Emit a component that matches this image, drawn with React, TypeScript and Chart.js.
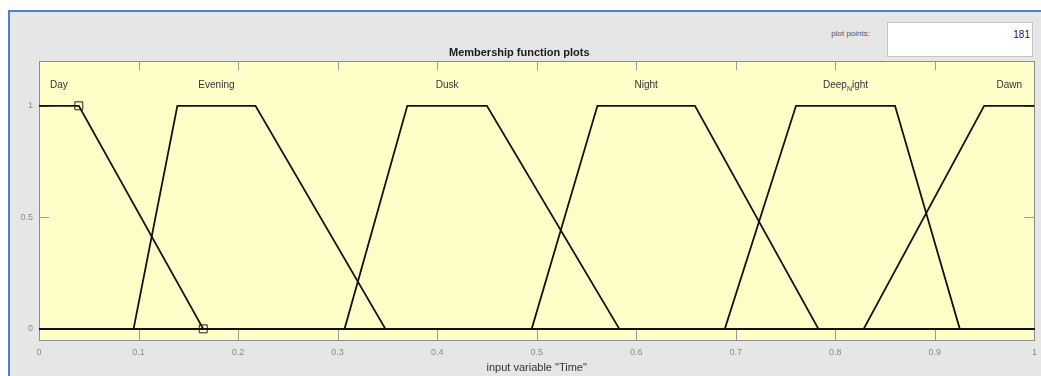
import React, { useEffect, useRef } from "react";
import { Chart, registerables } from "chart.js";

Chart.register(...registerables);

// Membership function names and trapezoid parameters [a, b, c, d]
const mfNames = ["Day", "Evening", "Dusk", "Night", "Deep_Night", "Dawn"];
const dayParams = [0, 0, 0.04, 0.165];
const eveningParams = [0.095, 0.139, 0.2175, 0.348];
const duskParams = [0.307, 0.37, 0.45, 0.583];
const nightParams = [0.495, 0.561, 0.659, 0.783];
const deepNightParams = [0.689, 0.7605, 0.86, 0.925];
const dawnParams = [0.8285, 0.9495, 1, 1];

// Selected MF markers (Day)
const markerX = [0.04, 0.165];
const markerY = [1, 0];

// Axis ticks
const xTicks = [0, 0.1, 0.2, 0.3, 0.4, 0.5, 0.6, 0.7, 0.8, 0.9, 1];
const xTickLabels = ["0", "0.1", "0.2", "0.3", "0.4", "0.5", "0.6", "0.7", "0.8", "0.9", "1"];
const yTicks = [0, 0.5, 1];
const yTickLabels = ["0", "0.5", "1"];

const titleText = "Membership function plots";
const xTitleText = 'input variable "Time"';
const plotPointsLabel = "plot points:";
const plotPointsValue = "181";

const FONT = '"Liberation Sans", Arial, Helvetica, sans-serif';

const allParams = [dayParams, eveningParams, duskParams, nightParams, deepNightParams, dawnParams];

function trapPoints(p: number[]) {
  const [a, b, c, d] = p;
  const pts: { x: number; y: number }[] = [];
  if (a === b) {
    pts.push({ x: b, y: 1 });
  } else {
    if (a > 0) pts.push({ x: 0, y: 0 });
    pts.push({ x: a, y: 0 });
    pts.push({ x: b, y: 1 });
  }
  pts.push({ x: c, y: 1 });
  if (c !== d) {
    pts.push({ x: d, y: 0 });
    if (d < 1) pts.push({ x: 1, y: 0 });
  }
  return pts;
}

const decorPlugin = {
  id: "decor",
  beforeDatasetsDraw(chart: any) {
    const { ctx, chartArea, scales } = chart;
    const xs = scales.x;
    const ys = scales.y;
    const L = chartArea.left, R = chartArea.right, T = chartArea.top, B = chartArea.bottom;
    ctx.save();
    ctx.fillStyle = "#fefec8";
    ctx.fillRect(L, T, R - L, B - T);
    // inward tick marks
    ctx.strokeStyle = "#9a9a9a";
    ctx.lineWidth = 1;
    ctx.beginPath();
    xTicks.forEach((v) => {
      const px = Math.round(xs.getPixelForValue(v)) + 0.5;
      ctx.moveTo(px, B);
      ctx.lineTo(px, B - 10);
      ctx.moveTo(px, T);
      ctx.lineTo(px, T + 9);
    });
    yTicks.forEach((v) => {
      const py = Math.round(ys.getPixelForValue(v)) + 0.5;
      ctx.moveTo(L, py);
      ctx.lineTo(L + 10, py);
      ctx.moveTo(R, py);
      ctx.lineTo(R - 10, py);
    });
    ctx.stroke();
    // border
    ctx.strokeStyle = "#8c8c8c";
    ctx.strokeRect(Math.round(L) + 0.5, Math.round(T) + 0.5, Math.round(R - L), Math.round(B - T));
    ctx.restore();
  },
  afterDatasetsDraw(chart: any) {
    const { ctx, scales } = chart;
    const xs = scales.x;
    const ys = scales.y;
    ctx.save();
    // MF labels
    ctx.fillStyle = "#333333";
    ctx.textBaseline = "middle";
    const ly = ys.getPixelForValue(1.09);
    mfNames.forEach((name, i) => {
      const p = allParams[i];
      const cx = xs.getPixelForValue((p[1] + p[2]) / 2);
      if (name.indexOf("_") >= 0) {
        const [pre, rest] = name.split("_");
        const sub = rest.charAt(0);
        const post = rest.slice(1);
        ctx.font = `10px ${FONT}`;
        const w1 = ctx.measureText(pre).width;
        const w3 = ctx.measureText(post).width;
        ctx.font = `7px ${FONT}`;
        const w2 = ctx.measureText(sub).width;
        const total = w1 + w2 + w3;
        const x0 = cx - total / 2;
        ctx.textAlign = "left";
        ctx.font = `10px ${FONT}`;
        ctx.fillText(pre, x0, ly);
        ctx.font = `7px ${FONT}`;
        ctx.fillText(sub, x0 + w1, ly + 3.5);
        ctx.font = `10px ${FONT}`;
        ctx.fillText(post, x0 + w1 + w2, ly);
      } else {
        ctx.font = `10px ${FONT}`;
        ctx.textAlign = "center";
        ctx.fillText(name, cx, ly);
      }
    });
    ctx.restore();
  },
};

export default function App() {
  const canvasRef = useRef<HTMLCanvasElement | null>(null);

  useEffect(() => {
    const canvas = canvasRef.current;
    if (!canvas) return;
    const datasets: any[] = allParams.map((p, i) => ({
      type: "line",
      label: mfNames[i],
      data: trapPoints(p),
      borderColor: "#111111",
      borderWidth: 1.8,
      pointRadius: 0,
      fill: false,
      tension: 0,
      clip: 2,
    }));
    datasets.push({
      type: "scatter",
      label: "selected",
      data: markerX.map((x, i) => ({ x, y: markerY[i] })),
      pointStyle: "rect",
      pointRadius: 5.6,
      borderColor: "#222222",
      borderWidth: 1,
      backgroundColor: "rgba(0,0,0,0)",
      showLine: false,
    });

    const chart = new Chart(canvas, {
      type: "line",
      data: { datasets },
      plugins: [decorPlugin],
      options: {
        animation: false,
        responsive: false,
        events: [],
        layout: { padding: { left: 0, right: 2.5, top: 0, bottom: 0 } },
        plugins: {
          legend: { display: false },
          tooltip: { enabled: false },
          title: {
            display: true,
            text: titleText,
            color: "#1a1a1a",
            font: { family: FONT, size: 11, weight: "bold" },
            padding: { top: 46, bottom: 2 },
          },
        },
        scales: {
          x: {
            type: "linear",
            min: 0,
            max: 1,
            afterBuildTicks: (s: any) => {
              s.ticks = xTicks.map((v) => ({ value: v }));
            },
            afterFit: (s: any) => {
              s.height = 36;
              s.paddingLeft = 0;
              s.paddingRight = 0;
            },
            grid: { display: false, drawTicks: false },
            border: { display: false },
            ticks: {
              autoSkip: false,
              maxRotation: 0,
              padding: 7,
              color: "#8a8a8a",
              font: { family: FONT, size: 9 },
              callback: (_v: any, i: number) => xTickLabels[i],
            },
            title: {
              display: true,
              text: xTitleText,
              color: "#333333",
              font: { family: FONT, size: 11 },
              padding: { top: 0, bottom: 1.5 },
            },
          },
          y: {
            type: "linear",
            min: -0.05,
            max: 1.2,
            afterBuildTicks: (s: any) => {
              s.ticks = yTicks.map((v) => ({ value: v }));
            },
            afterFit: (s: any) => {
              s.width = 39;
              s.paddingTop = 0;
              s.paddingBottom = 0;
            },
            grid: { display: false, drawTicks: false },
            border: { display: false },
            ticks: {
              padding: 6,
              color: "#8a8a8a",
              font: { family: FONT, size: 9 },
              callback: (_v: any, i: number) => yTickLabels[i],
            },
          },
        },
      } as any,
    });
    return () => chart.destroy();
  }, []);

  return (
    <div
      style={{
        position: "fixed",
        left: 0,
        top: 0,
        width: 1041,
        height: 376,
        background: "#ffffff",
        overflow: "hidden",
        fontFamily: FONT,
      }}
    >
      <div
        style={{
          position: "absolute",
          left: 8,
          top: 10,
          right: 0,
          bottom: 0,
          background: "#e6e6e6",
          borderLeft: "2px solid #4a7fd4",
          borderTop: "2px solid #4a7fd4",
        }}
      />
      <div
        style={{
          position: "absolute",
          left: 810,
          width: 60,
          top: 28,
          fontSize: 8,
          color: "#555",
          textAlign: "right",
          lineHeight: "12px",
        }}
      >
        {plotPointsLabel}
      </div>
      <div
        style={{
          position: "absolute",
          left: 887,
          top: 22,
          width: 146,
          height: 35,
          background: "#ffffff",
          border: "1px solid #c4c4c4",
          boxSizing: "border-box",
        }}
      />
      <div
        style={{
          position: "absolute",
          left: 960,
          width: 70,
          top: 29,
          fontSize: 10,
          color: "#222",
          textAlign: "right",
          lineHeight: "12px",
        }}
      >
        {plotPointsValue}
      </div>
      <canvas
        ref={canvasRef}
        width={1041}
        height={376}
        style={{ position: "absolute", left: 0, top: 0, width: 1041, height: 376 }}
      />
    </div>
  );
}
